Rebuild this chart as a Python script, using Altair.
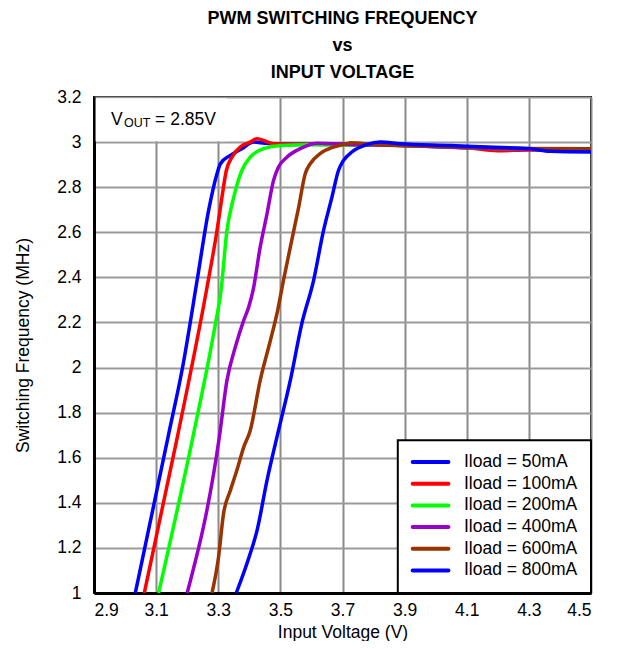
import altair as alt
import pandas as pd

# ---- data ----
series = ["Iload = 50mA", "Iload = 100mA", "Iload = 200mA",
          "Iload = 400mA", "Iload = 600mA", "Iload = 800mA"]
colors = ["#0000FF", "#FF0000", "#00FF00", "#9900CC", "#993300", "#0000FF"]

v50 = [3.033, 3.139, 3.185, 3.232, 3.269, 3.296, 3.307, 3.339, 3.376, 3.414, 3.45, 3.55, 3.7, 3.9, 4.1, 4.3, 4.5]
f50 = [1.0, 1.696, 2.0, 2.387, 2.697, 2.860, 2.904, 2.941, 2.971, 3.0, 2.995, 2.99, 2.99, 2.985, 2.975, 2.968, 2.96]

v100 = [3.062, 3.169, 3.262, 3.296, 3.312, 3.326, 3.344, 3.371, 3.403, 3.425, 3.478, 3.6, 3.9, 4.1, 4.2, 4.3, 4.5]
f100 = [1.0, 1.696, 2.342, 2.608, 2.756, 2.874, 2.933, 2.978, 3.0, 3.015, 2.993, 2.99, 2.985, 2.975, 2.962, 2.965, 2.96]

v200 = [3.108, 3.219, 3.291, 3.309, 3.328, 3.35, 3.376, 3.403, 3.446, 3.5, 3.6, 3.9, 4.1, 4.3, 4.5]
f200 = [1.0, 1.696, 2.195, 2.342, 2.608, 2.756, 2.874, 2.933, 2.971, 2.985, 2.988, 2.985, 2.975, 2.968, 2.96]

v400 = [3.2, 3.304, 3.328, 3.355, 3.382, 3.398, 3.412, 3.435, 3.457, 3.478, 3.494, 3.521, 3.564, 3.62, 3.7, 3.9, 4.1, 4.3, 4.5]
f400 = [1.0, 1.696, 1.943, 2.091, 2.209, 2.268, 2.342, 2.534, 2.682, 2.830, 2.889, 2.933, 2.971, 2.995, 2.99, 2.985, 2.975, 2.968, 2.96]

v600 = [3.28, 3.301, 3.317, 3.339, 3.360, 3.382, 3.403, 3.435, 3.468, 3.489, 3.51, 3.532, 3.559, 3.580, 3.596, 3.628, 3.671, 3.714, 3.725, 3.8, 3.9, 4.1, 4.3, 4.5]
f600 = [1.0, 1.160, 1.352, 1.455, 1.544, 1.647, 1.721, 1.943, 2.121, 2.239, 2.387, 2.534, 2.712, 2.860, 2.904, 2.949, 2.978, 2.993, 2.997, 2.99, 2.985, 2.978, 2.972, 2.97]

v800 = [3.358, 3.403, 3.425, 3.457, 3.494, 3.532, 3.569, 3.607, 3.639, 3.666, 3.687, 3.703, 3.730, 3.778, 3.821, 3.886, 4.046, 4.164, 4.304, 4.368, 4.5]
f800 = [1.0, 1.175, 1.278, 1.5, 1.721, 1.943, 2.195, 2.387, 2.608, 2.756, 2.874, 2.918, 2.956, 2.989, 3.0, 2.993, 2.985, 2.978, 2.971, 2.959, 2.956]

x_ticks = [2.9, 3.1, 3.3, 3.5, 3.7, 3.9, 4.1, 4.3, 4.5]
y_ticks = [1.0, 1.1, 1.2, 1.3, 1.4, 1.5, 1.6, 1.7, 1.8, 1.9, 2.0, 2.1, 2.2,
           2.3, 2.4, 2.5, 2.6, 2.7, 2.8, 2.9, 3.0, 3.1, 3.2]

title_lines = ["PWM SWITCHING FREQUENCY", "vs", "INPUT VOLTAGE"]
x_title = "Input Voltage (V)"
y_title = "Switching Frequency (MHz)"

# ---- build table ----
rows = []
for order, (name, vs, fs) in enumerate(zip(series, [v50, v100, v200, v400, v600, v800],
                                         [f50, f100, f200, f400, f600, f800])):
    for v, f in zip(vs, fs):
        rows.append({"series": name, "order": order, "v": v, "f": f})
df = pd.DataFrame(rows)

FONT = "Liberation Sans"
FS = 17.5

xscale = alt.Scale(domain=[2.9, 4.5], nice=False, zero=False)
yscale = alt.Scale(domain=[1.0, 3.2], nice=False, zero=False)
cscale = alt.Scale(domain=series, range=colors)

xaxis = alt.Axis(values=x_ticks, format=".1f", title=x_title, ticks=False,
                 labelPadding=8, titlePadding=5, grid=True,
                 gridColor="#8a8a8a", gridWidth=2, zindex=0)
yaxis = alt.Axis(values=y_ticks, format="~g", title=y_title, ticks=False,
                 labelExpr="round(datum.value*10) % 2 == 0 ? datum.label : ''",
                 labelPadding=13, titlePadding=24, grid=True,
                 gridColor={"condition": {"test": "round(datum.value*10) % 2 == 0", "value": "#9a9a9a"},
                            "value": "#2a2a2a"},
                 gridWidth={"condition": {"test": "round(datum.value*10) % 2 == 0", "value": 2},
                            "value": 1.3},
                 zindex=0)

lines = alt.Chart(df).mark_line(strokeWidth=3.5, interpolate="monotone").encode(
    x=alt.X("v:Q", scale=xscale, axis=xaxis),
    y=alt.Y("f:Q", scale=yscale, axis=yaxis),
    color=alt.Color("series:N", scale=cscale, legend=None),
    detail="order:O",
    order="order:O",
)

# annotation: white box with V_OUT text
box_df = pd.DataFrame([{"x": 2.905, "x2": 3.328, "y": 3.195, "y2": 3.004}])
box = alt.Chart(box_df).mark_rect(color="white").encode(
    x=alt.X("x:Q", scale=xscale), x2="x2:Q",
    y=alt.Y("y:Q", scale=yscale), y2="y2:Q")

ann_df = pd.DataFrame([{"x": 2.955, "y": 3.077}])
t_v = alt.Chart(ann_df).mark_text(text="V", align="left", baseline="alphabetic",
                                  font=FONT, fontSize=FS, color="black").encode(
    x=alt.X("x:Q", scale=xscale), y=alt.Y("y:Q", scale=yscale))
t_sub = alt.Chart(ann_df).mark_text(text="OUT", align="left", baseline="alphabetic",
                                    font=FONT, fontSize=12.5, color="black", dx=13, dy=2).encode(
    x=alt.X("x:Q", scale=xscale), y=alt.Y("y:Q", scale=yscale))
t_eq = alt.Chart(ann_df).mark_text(text="= 2.85V", align="left", baseline="alphabetic",
                                   font=FONT, fontSize=FS, color="black", dx=44).encode(
    x=alt.X("x:Q", scale=xscale), y=alt.Y("y:Q", scale=yscale))

# ---- legend (drawn as marks, inside the plot at the lower right) ----
LEG_LEFT, LEG_RIGHT, LEG_TOP, LEG_BOTTOM = 3.878, 4.5, 1.677, 1.0
ROW0, ROW_STEP = 1.581, 0.0962
SYM_X1, SYM_X2, LAB_X = 3.926, 4.041, 4.091
leg_rows = pd.DataFrame([{"series": s, "y": ROW0 - i * ROW_STEP, "x1": SYM_X1,
                          "x2": SYM_X2, "lx": LAB_X} for i, s in enumerate(series)])
leg_box = alt.Chart(pd.DataFrame([{"x": LEG_LEFT, "x2": LEG_RIGHT, "y": LEG_TOP, "y2": LEG_BOTTOM}])
                    ).mark_rect(fill="white", stroke="black", strokeWidth=2).encode(
    x=alt.X("x:Q", scale=xscale), x2="x2:Q",
    y=alt.Y("y:Q", scale=yscale), y2="y2:Q")
leg_sym = alt.Chart(leg_rows).mark_rule(strokeWidth=4, strokeCap="round").encode(
    x=alt.X("x1:Q", scale=xscale), x2="x2:Q",
    y=alt.Y("y:Q", scale=yscale),
    color=alt.Color("series:N", scale=cscale, legend=None))
leg_lab = alt.Chart(leg_rows).mark_text(align="left", baseline="middle", font=FONT,
                                        fontSize=FS, color="black").encode(
    x=alt.X("lx:Q", scale=xscale), y=alt.Y("y:Q", scale=yscale), text="series:N")

chart = alt.layer(box, lines, t_v, t_sub, t_eq, leg_box, leg_sym, leg_lab).properties(
    width=497, height=496,
    title=alt.TitleParams(text=title_lines, font=FONT, fontSize=18, fontWeight="bold",
                          lineHeight=27, anchor="middle", offset=6, color="black"),
    autosize=alt.AutoSizeParams(type="none"),
    padding={"left": 86, "top": 89, "right": 20, "bottom": 48},
).configure_view(
    stroke="black", strokeWidth=2
).configure_axis(
    labelFont=FONT, titleFont=FONT, labelFontSize=FS, titleFontSize=FS,
    labelColor="black", titleColor="black", titleFontWeight="normal",
    domainColor="black", domainWidth=3,
)

chart.save("out.html", embed_options={"renderer": "svg", "actions": False})
